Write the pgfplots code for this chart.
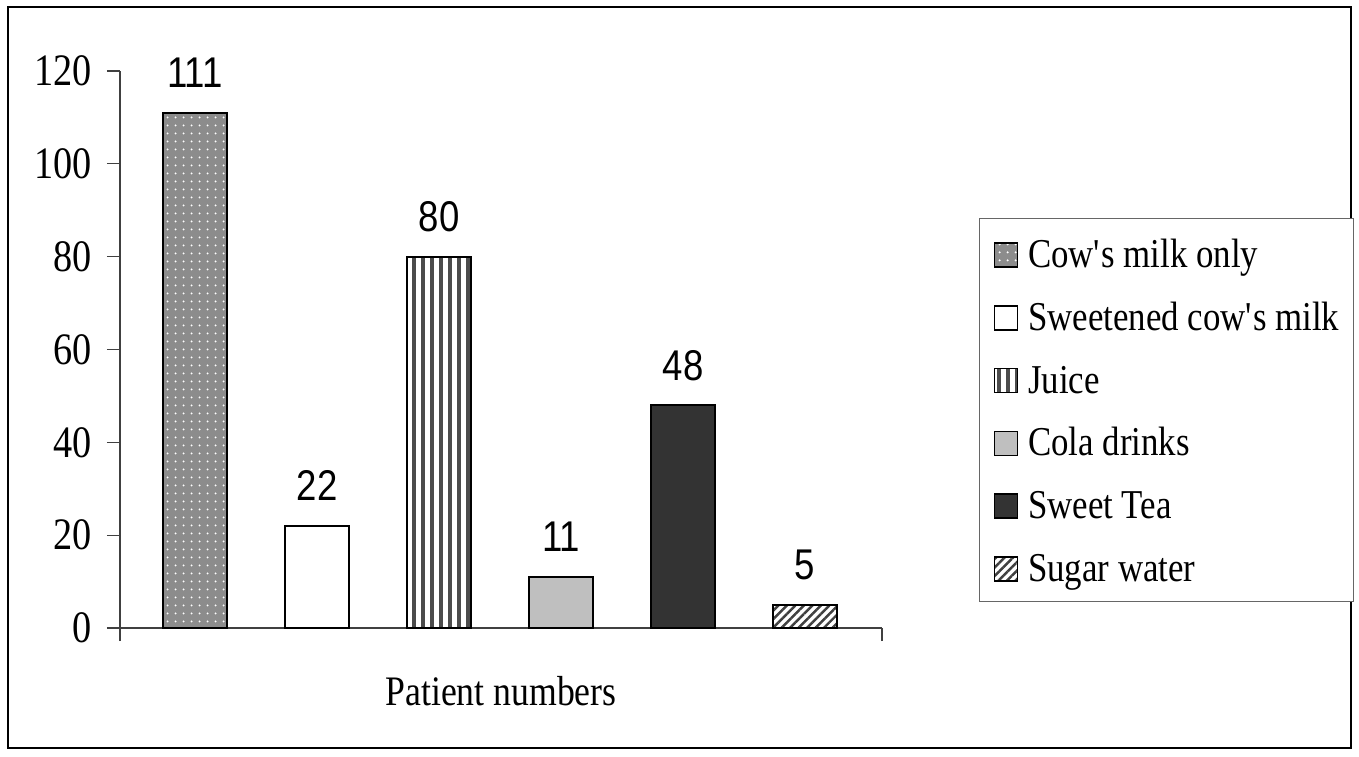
\documentclass[border=0pt]{standalone}
\usepackage{pgfplots}
\pgfplotsset{compat=1.18}
\usetikzlibrary{patterns.meta}
\usepackage{fontspec}
\setmainfont{Liberation Serif}[FakeStretch=0.85]
\newfontfamily\arialfont{Liberation Sans}[FakeStretch=0.85]
\pgfplotsset{
  mylegend/.style={legend image code/.code={\draw[##1,line width=0.8pt] (0pt,-7pt) rectangle (11.5pt,5pt);}},
  barlab/.style={nodes near coords, every node near coord/.append style={font=\arialfont\fontsize{21.5}{24}\selectfont, text=black, anchor=base, inner sep=0pt, yshift=12.5pt}},
}
\begin{document}
\begin{tikzpicture}
\useasboundingbox (-60pt,-64pt) rectangle (619.5pt,314pt);
\draw[black, line width=1pt] (-56pt,-60pt) rectangle (615.5pt,310.5pt);
\begin{axis}[
  at={(0pt,0pt)}, anchor=south west,
  scale only axis, width=381pt, height=278.5pt,
  xmin=0.385, xmax=6.63, ymin=0, ymax=120,
  axis lines*=left,
  axis line style={black!75, line width=0.6pt},
  every tick/.style={black!75, line width=0.6pt},
  tick align=outside,
  major tick length=6.5pt,
  ytick={0,20,...,120},
  xtick={0.385,6.63}, xticklabels={,},
  /pgf/number format/assume math mode=true,
  yticklabel style={font=\fontsize{22.5}{26}\selectfont, inner xsep=0pt},
  yticklabel shift=7.5pt,
  xlabel={Patient numbers},
  xlabel style={font=\fontsize{21}{24}\selectfont, at={(axis description cs:0.5,0)}, anchor=base, yshift=-38.5pt},
  legend style={at={(1.1273,0.7361)}, anchor=north west, draw=black!60, line width=0.5pt,
    font=\fontsize{20.5}{24}\selectfont, inner xsep=7pt, inner ysep=4.5pt, row sep=5.9pt, column sep=5pt,
    nodes={inner xsep=0pt, inner ysep=0pt, text height=20pt, text depth=5.5pt}},
  legend cell align=left,
]
\addplot[ybar, bar width=32pt, bar shift=0pt, draw=black, line width=1pt, fill=black!45,
  postaction={pattern={Dots[distance=4pt, radius=0.6pt]}, pattern color=white}, mylegend, barlab]
  coordinates {(1,111)};
\addlegendentry{Cow\textquotesingle s milk only}
\addplot[ybar, bar width=32pt, bar shift=0pt, draw=black, line width=1pt, fill=white, mylegend, barlab]
  coordinates {(2,22)};
\addlegendentry{Sweetened cow\textquotesingle s milk}
\addplot[ybar, bar width=32pt, bar shift=0pt, draw=black, line width=1pt, fill=white,
  postaction={pattern={Lines[angle=90, distance=4.5pt, line width=2pt]}, pattern color=black!70}, mylegend, barlab]
  coordinates {(3,80)};
\addlegendentry{Juice}
\addplot[ybar, bar width=32pt, bar shift=0pt, draw=black, line width=1pt, fill=black!25, mylegend, barlab]
  coordinates {(4,11)};
\addlegendentry{Cola drinks}
\addplot[ybar, bar width=32pt, bar shift=0pt, draw=black, line width=1pt, fill=black!80, mylegend, barlab]
  coordinates {(5,48)};
\addlegendentry{Sweet Tea}
\addplot[ybar, bar width=32pt, bar shift=0pt, draw=black, line width=1pt, fill=white,
  postaction={pattern={Lines[angle=45, distance=3pt, line width=1.2pt]}, pattern color=black!75}, mylegend, barlab]
  coordinates {(6,5)};
\addlegendentry{Sugar water}
\end{axis}
\end{tikzpicture}
\end{document}
